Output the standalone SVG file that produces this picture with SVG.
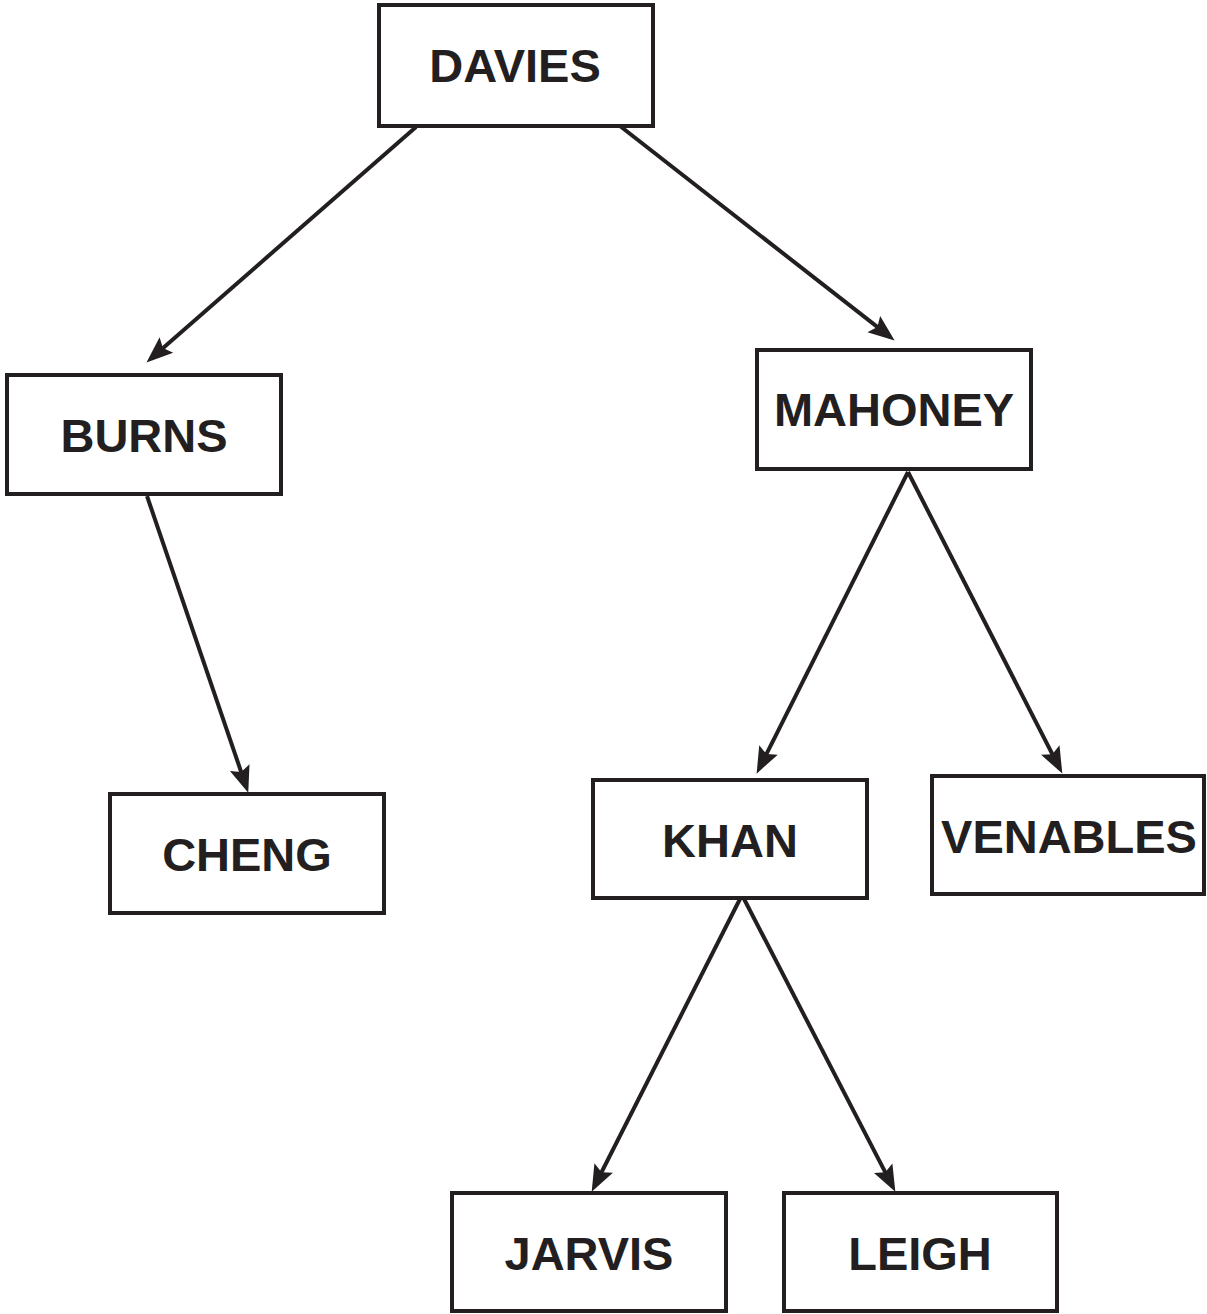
<svg xmlns="http://www.w3.org/2000/svg" width="1207" height="1314" viewBox="0 0 1207 1314">
<style>
.box{fill:#fff;stroke:#231f20;stroke-width:4}
.lbl{font-family:"Liberation Sans",Arial,sans-serif;font-weight:bold;font-size:47px;fill:#231f20;text-anchor:middle}
.edge{stroke:#231f20;stroke-width:4;fill:none;marker-end:url(#ah)}
</style>
<defs>
<marker id="ah" markerUnits="userSpaceOnUse" markerWidth="28" markerHeight="23" viewBox="0 0 24 20" refX="18" refY="10" orient="auto">
<path d="M0,1 L23,10 L0,19 L4,10 z" fill="#231f20"/>
</marker>
</defs>
<rect width="1207" height="1314" fill="#fff"/>
<g id="connectors">
<line class="edge" x1="416" y1="127" x2="150.8" y2="358.7"/>
<line class="edge" x1="620" y1="126" x2="890.1" y2="336.9"/>
<line class="edge" x1="147" y1="496" x2="246.4" y2="787.3"/>
<line class="edge" x1="908" y1="472" x2="759.2" y2="768.5"/>
<line class="edge" x1="908" y1="472" x2="1059.7" y2="768.5"/>
<line class="edge" x1="742" y1="895" x2="594.3" y2="1186.5"/>
<line class="edge" x1="742" y1="895" x2="892.7" y2="1186.6"/>
</g>
<g id="davies"><rect class="box" x="379" y="5" width="274" height="121"/><text class="lbl" x="515" y="82">DAVIES</text></g>
<g id="burns"><rect class="box" x="7" y="375" width="274" height="119"/><text class="lbl" x="144" y="452">BURNS</text></g>
<g id="mahoney"><rect class="box" x="757" y="350" width="274" height="119"/><text class="lbl" x="894" y="426">MAHONEY</text></g>
<g id="cheng"><rect class="box" x="110" y="794" width="274" height="119"/><text class="lbl" x="247" y="871">CHENG</text></g>
<g id="khan"><rect class="box" x="593" y="780" width="274" height="118"/><text class="lbl" x="730" y="857">KHAN</text></g>
<g id="venables"><rect class="box" x="932" y="776" width="272" height="118"/><text class="lbl" x="1069" y="853">VENABLES</text></g>
<g id="jarvis"><rect class="box" x="452" y="1193" width="274" height="118"/><text class="lbl" x="589" y="1270">JARVIS</text></g>
<g id="leigh"><rect class="box" x="784" y="1193" width="273" height="118"/><text class="lbl" x="920" y="1270">LEIGH</text></g>
</svg>
